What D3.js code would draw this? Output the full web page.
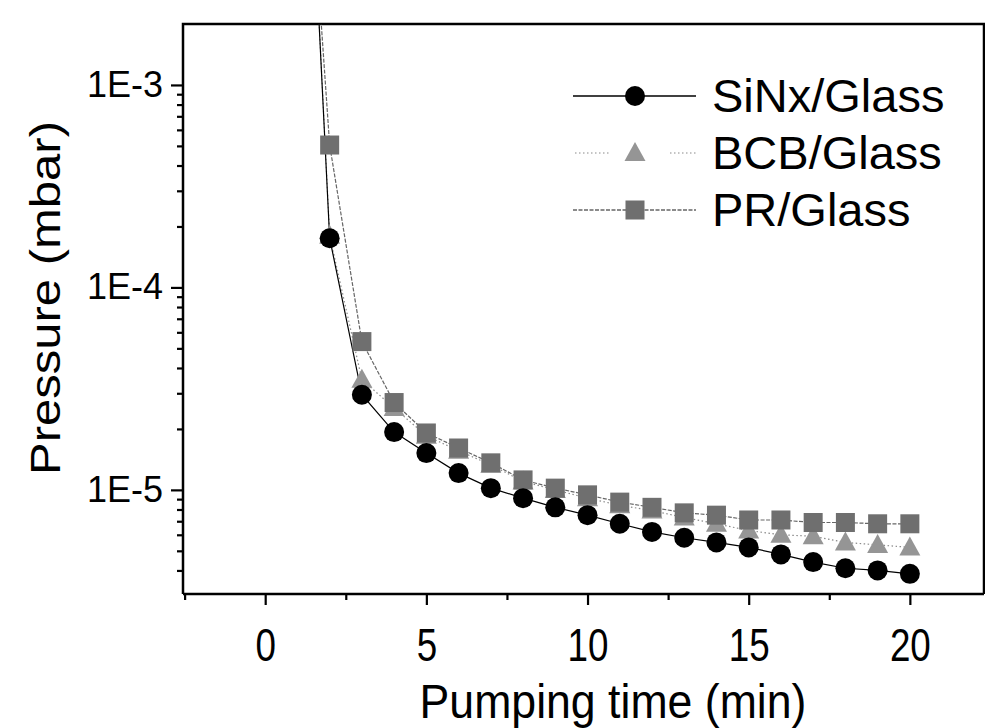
<!DOCTYPE html>
<html><head><meta charset="utf-8">
<script src="https://cdn.jsdelivr.net/npm/d3@7"></script>
<style>
html,body{margin:0;padding:0;background:#fff;}
svg text{font-family:"Liberation Sans",Arial,Helvetica,sans-serif;fill:#000;}
</style></head>
<body><svg id="chart" width="985" height="728"></svg>
<script>
// ---- data ----
const times = [1,2,3,4,5,6,7,8,9,10,11,12,13,14,15,16,17,18,19,20];
const sinxGlass = [0.3,1.75e-4,2.95e-5,1.93e-5,1.52e-5,1.21e-5,1.02e-5,9.1e-6,8.2e-6,7.5e-6,6.8e-6,6.2e-6,5.8e-6,5.5e-6,5.2e-6,4.8e-6,4.4e-6,4.1e-6,4.0e-6,3.85e-6];
const bcbGlass = [0.3,1.8e-4,3.5e-5,2.54e-5,1.85e-5,1.56e-5,1.33e-5,1.1e-5,1.0e-5,9.1e-6,8.4e-6,7.9e-6,7.3e-6,6.8e-6,6.3e-6,6.0e-6,5.9e-6,5.5e-6,5.35e-6,5.2e-6];
const prGlass = [0.1,5.05e-4,5.4e-5,2.7e-5,1.91e-5,1.61e-5,1.36e-5,1.12e-5,1.02e-5,9.45e-6,8.7e-6,8.2e-6,7.7e-6,7.5e-6,7.1e-6,7.1e-6,6.9e-6,6.9e-6,6.8e-6,6.8e-6];
const seriesNames = ["SiNx/Glass","BCB/Glass","PR/Glass"];
const xTicks = [0,5,10,15,20];
const xMinorTicks = [-2.5,2.5,7.5,12.5,17.5];
const yTicks = [1e-3,1e-4,1e-5];
const yTickLabels = ["1E-3","1E-4","1E-5"];
const xTitle = "Pumping time (min)";
const yTitle = "Pressure (mbar)";

// ---- layout ----
const svg = d3.select("#chart");
const L = 183, R = 984, T = 24, B = 594;
const x = d3.scaleLinear().domain([-2.55, 22.3]).range([L, R]);
const y = d3.scaleLog().domain([3.06e-6, 2.0e-3]).range([B, T]);

svg.append("defs").append("clipPath").attr("id","clip")
  .append("rect").attr("x",L).attr("y",T).attr("width",R-L).attr("height",B-T);

// y minor ticks
const yMinor = [];
[1e-6,1e-5,1e-4,1e-3].forEach(d=>{for(let k=2;k<=9;k++){const v=k*d; if(v>y.domain()[0]&&v<y.domain()[1]) yMinor.push(v);}});

const gy = svg.append("g").attr("transform",`translate(${L},0)`);
gy.call(d3.axisLeft(y).tickValues(yMinor).tickSize(6).tickFormat(""));
gy.call(g=>g.select(".domain").remove());
const gy2 = svg.append("g").attr("transform",`translate(${L},0)`);
gy2.call(d3.axisLeft(y).tickValues(yTicks).tickSize(12).tickPadding(8).tickFormat((d,i)=>yTickLabels[i]));
gy2.select(".domain").remove();
gy2.selectAll("text").attr("font-size",36).attr("font-family","Liberation Sans, Arial, sans-serif");

const gx = svg.append("g").attr("transform",`translate(0,${B})`);
gx.call(d3.axisBottom(x).tickValues(xMinorTicks).tickSize(6).tickFormat(""));
gx.select(".domain").remove();
const gx2 = svg.append("g").attr("transform",`translate(0,${B})`);
gx2.call(d3.axisBottom(x).tickValues(xTicks).tickSize(11).tickFormat(d3.format("d")));
gx2.select(".domain").remove();
gx2.selectAll("text").attr("font-size",46).attr("font-family","Liberation Sans, Arial, sans-serif")
  .attr("dy",null).attr("y",0).attr("x",0)
  .attr("transform",`translate(0,67) scale(0.8,1)`);
svg.selectAll("g line").attr("stroke-width",2.2);

// frame
svg.append("path").attr("d",`M${L},${B}H${R}M${L},${B}V${T}H${R}V${B}`)
  .attr("fill","none").attr("stroke","#000").attr("stroke-width",2.5);

// titles
svg.append("text").attr("text-anchor","middle")
  .attr("transform",`translate(613,718) scale(0.93,1)`)
  .attr("font-size",48).text(xTitle);
svg.append("text").attr("text-anchor","middle")
  .attr("transform",`translate(60,298) rotate(-90) scale(1.14,1)`)
  .attr("font-size",43).text(yTitle);

// ---- series ----
const series = [
  {name:seriesNames[1], vals:bcbGlass, stroke:"#8a8a8a", dash:"1.5,2.5", fill:"#959595", shape:"tri"},
  {name:seriesNames[2], vals:prGlass, stroke:"#666", dash:"4,1.5", fill:"#6f6f6f", shape:"sq"},
  {name:seriesNames[0], vals:sinxGlass, stroke:"#000", dash:null, fill:"#000", shape:"circ"}
];
const line = d3.line().x(d=>x(d[0])).y(d=>y(d[1]));
const plot = svg.append("g").attr("clip-path","url(#clip)");
series.forEach(s=>{
  plot.append("path").datum(times.map((t,i)=>[t,s.vals[i]]))
    .attr("d",line).attr("fill","none").attr("stroke",s.stroke)
    .attr("stroke-width",1.2).attr("stroke-dasharray",s.dash);
});
function marker(g, shape, cx, cy, fill){
  if(shape==="circ") g.append("circle").attr("cx",cx).attr("cy",cy).attr("r",10).attr("fill",fill);
  else if(shape==="sq") g.append("rect").attr("x",cx-9.5).attr("y",cy-9.5).attr("width",19).attr("height",19).attr("fill",fill);
  else g.append("path").attr("d",`M${cx},${cy-11}L${cx+10.5},${cy+8}L${cx-10.5},${cy+8}Z`).attr("fill",fill);
}
series.forEach(s=>{
  times.forEach((t,i)=>marker(plot, s.shape, x(t), y(s.vals[i]), s.fill));
});

// ---- legend ----
const legRows = [
  {s:series[2], y:96},
  {s:series[0], y:153},
  {s:series[1], y:210}
];
const lg = svg.append("g");
legRows.forEach(r=>{
  if(r.s.shape==="tri"){
    lg.append("line").attr("x1",575).attr("x2",610).attr("y1",r.y).attr("y2",r.y)
      .attr("stroke",r.s.stroke).attr("stroke-width",1.2).attr("stroke-dasharray","1.5,2.5");
    lg.append("line").attr("x1",670).attr("x2",696).attr("y1",r.y).attr("y2",r.y)
      .attr("stroke",r.s.stroke).attr("stroke-width",1.2).attr("stroke-dasharray","1.5,2.5");
  } else {
    lg.append("line").attr("x1",573).attr("x2",696).attr("y1",r.y).attr("y2",r.y)
      .attr("stroke",r.s.stroke).attr("stroke-width",1.4).attr("stroke-dasharray",r.s.dash);
  }
  marker(lg, r.s.shape, 635, r.y, r.s.fill);
  lg.append("text").attr("x",712).attr("y",r.y+16).attr("font-size",47).text(r.s.name);
});
</script></body></html>
